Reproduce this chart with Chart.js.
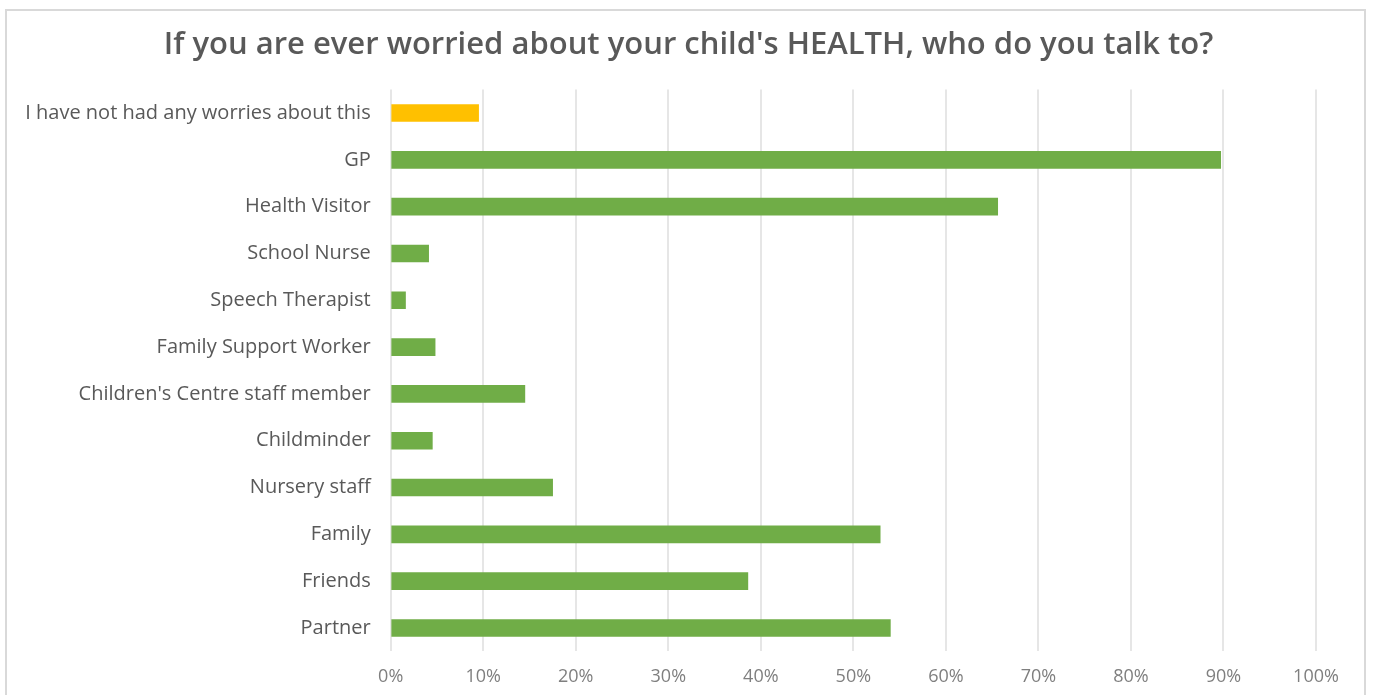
<!DOCTYPE html>
<html>
<head>
<meta charset="utf-8">
<script src="https://cdn.jsdelivr.net/npm/chart.js@4/dist/chart.umd.min.js"></script>
<style>
  html, body { margin: 0; padding: 0; background: #fff; overflow: hidden; }
  #frame { position: absolute; left: 5px; top: 9px; width: 1361px; height: 700px; border: 2px solid #d9d9d9; box-sizing: border-box; }
  #wrap { position: absolute; left: 0; top: 0; width: 1373px; height: 695px; }
</style>
</head>
<body>
<div id="frame"></div>
<div id="wrap"><canvas id="c"></canvas></div>
<script>
const titleText = "If you are ever worried about your child's HEALTH, who do you talk to?";
const categories = [
  "I have not had any worries about this",
  "GP",
  "Health Visitor",
  "School Nurse",
  "Speech Therapist",
  "Family Support Worker",
  "Children's Centre staff member",
  "Childminder",
  "Nursery staff",
  "Family",
  "Friends",
  "Partner"
];
const values = [9.5, 89.7, 65.6, 4.1, 1.6, 4.8, 14.5, 4.5, 17.5, 52.9, 38.6, 54.0];
const barColors = ["#FFC000", "#70AD47", "#70AD47", "#70AD47", "#70AD47", "#70AD47", "#70AD47", "#70AD47", "#70AD47", "#70AD47", "#70AD47", "#70AD47"];
const xTicks = [0, 10, 20, 30, 40, 50, 60, 70, 80, 90, 100];

const centeredTitle = {
  id: 'centeredTitle',
  afterDraw(chart) {
    const c = chart.ctx;
    c.save();
    c.font = "600 31px 'Open Sans'";
    c.fillStyle = '#595959';
    c.textAlign = 'center';
    c.textBaseline = 'middle';
    c.fillText(titleText, chart.width / 2 + 2, 45);
    c.restore();
  }
};

const ctx = document.getElementById('c');
new Chart(ctx, {
  type: 'bar',
  data: {
    labels: categories,
    datasets: [{
      data: values,
      backgroundColor: barColors,
      barThickness: 17,
      borderWidth: 0
    }]
  },
  plugins: [centeredTitle],
  options: {
    indexAxis: 'y',
    responsive: true,
    maintainAspectRatio: false,
    animation: false,
    layout: { padding: { left: 8, right: 57, top: 89.6, bottom: 0 } },
    plugins: {
      legend: { display: false },
      tooltip: { enabled: false },
      title: { display: false }
    },
    scales: {
      x: {
        min: 0, max: 100,
        afterBuildTicks: (axis) => { axis.ticks = xTicks.map(v => ({ value: v })); },
        afterFit: (axis) => { axis.height = 43.6; },
        border: { display: false },
        grid: { color: '#e6e6e6', lineWidth: 2, drawTicks: false },
        ticks: {
          color: '#7f7f7f',
          font: { family: 'Open Sans', size: 18 },
          padding: 15,
          callback: (v) => v + '%'
        }
      },
      y: {
        afterFit: (axis) => { axis.width = 382.7; },
        border: { display: false },
        grid: { display: false, drawTicks: false },
        ticks: {
          color: '#595959',
          font: { family: 'Open Sans', size: 20 },
          padding: 20
        }
      }
    }
  }
});
</script>
</body>
</html>
